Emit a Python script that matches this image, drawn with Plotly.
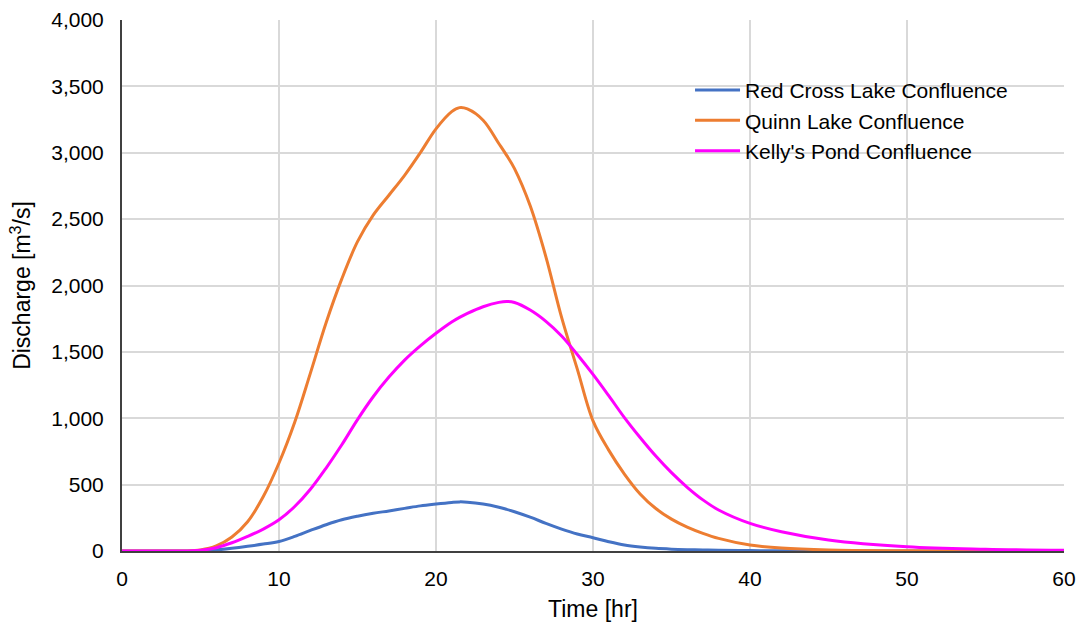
import plotly.graph_objects as go

# Time [hr]
time_hr = [0, 2, 4, 5, 6, 7, 8, 9, 10, 11, 12, 13, 14, 15, 16, 17, 18, 19, 20, 21, 21.5, 22, 23, 24, 24.5, 25, 26, 27, 28, 29,
           30, 31, 32, 33, 34, 35, 36, 37, 38, 40, 42, 45, 50, 55, 60]

red_cross = [0, 0, 0, 2, 8, 20, 35, 52, 72, 110, 155, 198, 235, 262, 284, 302, 321, 340, 354, 366, 370, 368, 354, 330, 314,
             296, 255, 208, 165, 128, 100, 70, 45, 30, 20, 14, 10, 8, 6, 3, 2, 1, 0, 0, 0]

quinn = [0, 0, 0, 8, 38, 105, 220, 410, 663, 970, 1340, 1720, 2050, 2330, 2530, 2680, 2830, 3000, 3180, 3310, 3340, 3330,
         3245, 3070, 2980, 2880, 2600, 2216, 1760, 1370, 980, 760, 580, 430, 320, 240, 180, 133, 95, 45, 22, 8, 2, 0, 0]

kellys = [0, 0, 0, 5, 25, 62, 110, 165, 235, 335, 465, 625, 800, 990, 1162, 1310, 1438, 1545, 1640, 1725, 1760, 1790,
          1840, 1873, 1880, 1872, 1815, 1730, 1620, 1480, 1330, 1170, 1005, 855, 715, 590, 480, 385, 309, 208, 145, 83,
          32, 13, 5]

series = [
    ("Red Cross Lake Confluence", red_cross, "#4472C4"),
    ("Quinn Lake Confluence", quinn, "#ED7D31"),
    ("Kelly's Pond Confluence", kellys, "#FF00FF"),
]

fig = go.Figure()
for name, vals, color in series:
    fig.add_trace(go.Scatter(
        x=time_hr, y=vals, name=name, mode="lines",
        line=dict(color=color, width=3, shape="spline", smoothing=1.0),
    ))

font_family = "Liberation Sans, Arial, sans-serif"

fig.update_layout(
    width=1082, height=628,
    margin=dict(l=122, r=18, t=20, b=77),
    paper_bgcolor="white", plot_bgcolor="white",
    font=dict(family=font_family, size=21, color="#000000"),
    showlegend=True,
    legend=dict(
        x=0.603, y=0.906, xanchor="left", yanchor="top",
        bgcolor="rgba(0,0,0,0)", font=dict(size=21, color="#000000"),
        itemwidth=45, tracegroupgap=0,
    ),
    xaxis=dict(
        range=[0, 60], tickvals=[0, 10, 20, 30, 40, 50, 60],
        showgrid=True, gridcolor="#d9d9d9", gridwidth=2,
        showline=True, linecolor="#404040", linewidth=2,
        zeroline=False, ticks="", ticklabelstandoff=8, automargin=False,
        tickfont=dict(size=21),
        title=dict(text="Time [hr]", font=dict(size=23), standoff=12),
    ),
    yaxis=dict(
        range=[0, 4000], tickvals=[0, 500, 1000, 1500, 2000, 2500, 3000, 3500, 4000],
        tickformat=",",
        showgrid=True, gridcolor="#d9d9d9", gridwidth=2,
        showline=True, linecolor="#404040", linewidth=2,
        zeroline=False, ticks="", ticklabelstandoff=12, automargin=False,
        tickfont=dict(size=21),
        title=dict(text="Discharge [m<sup>3</sup>/s]", font=dict(size=23), standoff=14),
    ),
)

fig.write_html(
    "out.html",
    config={"displayModeBar": False},
    post_script="document.body.style.margin='0';document.body.style.overflow='hidden';",
)
